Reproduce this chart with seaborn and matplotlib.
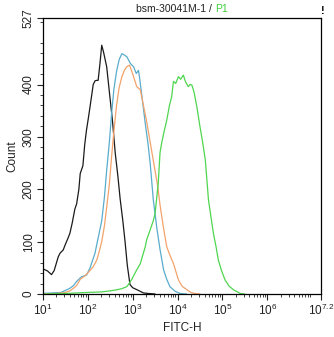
import numpy as np
import pandas as pd
import matplotlib
matplotlib.use("Agg")
import matplotlib.pyplot as plt
from matplotlib.ticker import FixedLocator, NullFormatter
import seaborn as sns

# ---- data (log10 FITC-H, count) ----
black_x = [1.0,1.1,1.19,1.25,1.34,1.38,1.45,1.5,1.55,1.6,1.65,1.71,1.75,1.8,1.83,1.89,1.93,1.97,2.01,2.05,2.12,2.16,2.2,2.23,2.27,2.31,2.35,2.42,2.5,2.55,2.61,2.67,2.72,2.78,2.83,2.88,2.94,3.0,3.05,3.1,3.17,3.24,3.35,3.5]
black_y = [48,44,37,45,71,78,84,95,105,116,135,162,172,200,230,245,285,313,335,358,400,407,408,408,440,475,462,434,370,330,270,225,182,140,100,55,18,12,10,8,5,2,1,0]

blue_x = [1.0,1.2,1.4,1.53,1.6,1.68,1.75,1.86,1.97,2.05,2.12,2.16,2.2,2.25,2.31,2.37,2.42,2.48,2.53,2.58,2.64,2.7,2.76,2.82,2.87,2.95,3.02,3.08,3.13,3.16,3.22,3.28,3.34,3.39,3.46,3.54,3.61,3.69,3.76,3.83,3.95,4.06,4.2]
blue_y = [1,2,3,8,11,16,24,33,36,50,68,78,95,115,140,185,236,290,345,390,425,448,459,456,453,440,434,421,427,409,368,326,288,250,180,125,85,46,28,14,5,1,0]

orange_x = [1.0,1.3,1.5,1.6,1.68,1.75,1.83,1.94,2.05,2.12,2.2,2.25,2.31,2.37,2.42,2.48,2.53,2.58,2.64,2.7,2.76,2.82,2.87,2.93,2.98,3.02,3.09,3.17,3.24,3.3,3.39,3.45,3.5,3.56,3.61,3.68,3.76,3.84,3.91,4.02,4.1,4.21,4.3,4.39,4.5]
orange_y = [0,1,3,6,11,16,28,35,45,52,65,80,100,130,165,210,262,310,360,395,415,428,434,437,425,415,396,390,360,335,290,260,235,205,170,130,90,72,58,27,15,8,3,1,0]

green_x = [1.0,1.5,2.0,2.3,2.5,2.64,2.75,2.87,2.98,3.09,3.17,3.28,3.31,3.38,3.46,3.5,3.57,3.61,3.65,3.7,3.76,3.82,3.87,3.91,3.96,4.02,4.07,4.13,4.18,4.24,4.28,4.32,4.37,4.43,4.5,4.56,4.62,4.69,4.75,4.8,4.86,4.91,4.98,5.06,5.15,5.25,5.4,5.5]
green_y = [0,1,3,4,6,8,10,14,28,46,58,90,103,120,140,154,211,270,290,310,332,360,377,406,402,415,410,418,405,396,400,399,385,358,320,290,256,180,145,116,90,65,45,27,15,8,1,0]

series_names = ["control", "blue", "orange", "P1"]
colors = ["#1a1a1a", "#5aaccc", "#f2a36c", "#4fd64f"]
x_tick_exps = ["1", "2", "3", "4", "5", "6", "7.2"]
y_ticks = [0, 100, 200, 300, 400, 527]

frames = []
for name, xs, ys in zip(series_names,
                        [black_x, blue_x, orange_x, green_x],
                        [black_y, blue_y, orange_y, green_y]):
    frames.append(pd.DataFrame({"FITC": 10 ** np.array(xs, dtype=float),
                                "Count": ys, "s": name}))
df = pd.concat(frames, ignore_index=True)

sns.set_style("ticks")
plt.rcParams['font.family'] = ['Liberation Sans', 'DejaVu Sans']
plt.rcParams['mathtext.fontset'] = 'custom'
plt.rcParams['mathtext.rm'] = 'Liberation Sans'

fig = plt.figure(figsize=(3.34, 3.37), dpi=100)
ax = fig.add_axes([43/334, 1-294/337, (321-43)/334, (294-18)/337])

sns.lineplot(data=df, x="FITC", y="Count", hue="s", palette=colors,
             hue_order=series_names, sort=False, estimator=None,
             linewidth=0.9, legend=False, ax=ax)

ax.set_xscale("log")
ax.set_xlim(10 ** 1, 10 ** 7.2)
ax.set_ylim(0, 527)

major = [10 ** float(e) for e in x_tick_exps]
ax.xaxis.set_major_locator(FixedLocator(major))
minor = [m * 10 ** d for d in range(1, 7) for m in range(2, 10) if m * 10 ** d < 10 ** 7.2]
ax.xaxis.set_minor_locator(FixedLocator(minor))
ax.xaxis.set_minor_formatter(NullFormatter())
ax.set_xticklabels([r"$\mathregular{10^{%s}}$" % e for e in x_tick_exps])

ax.yaxis.set_major_locator(FixedLocator(y_ticks))
ax.yaxis.set_minor_locator(FixedLocator([v for v in range(20, 527, 20) if v % 100 != 0]))
ax.set_yticklabels([str(v) for v in y_ticks], rotation=90, va="center")

ax.tick_params(axis="both", which="major", direction="out", length=4, width=0.8,
               labelsize=8.5, colors="#222222", pad=2)
ax.tick_params(axis="both", which="minor", direction="out", length=2, width=0.6)
for sp in ax.spines.values():
    sp.set_linewidth(0.9)
    sp.set_color("black")
    sp.set_visible(True)

ax.set_xlabel("FITC-H", fontsize=8.5, labelpad=3, color="#222222")
ax.set_ylabel("Count", fontsize=8.5, labelpad=3, color="#222222")

fig.text(212/334, 1-9/337, "bsm-30041M-1 /", ha="right", va="center", fontsize=7.5, color="#222222")
fig.text(215/334, 1-9/337, "P1", ha="left", va="center", fontsize=7.5, color="#3ecf3e")
fig.text(323/334, 1-11/337, "!", ha="center", va="center", fontsize=8, fontweight="bold", color="black")

fig.savefig("out.png", dpi=100)
